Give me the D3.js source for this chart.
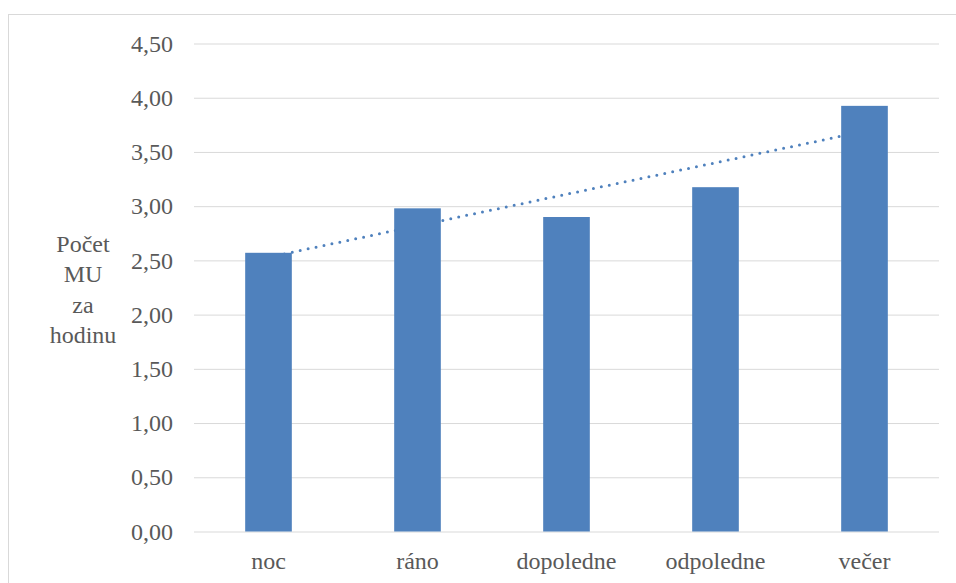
<!DOCTYPE html>
<html><head><meta charset="utf-8">
<script src="https://cdn.jsdelivr.net/npm/d3@7"></script>
<style>body{margin:0;background:#fff}svg{display:block}</style>
</head><body>
<svg id="c" width="956" height="583"></svg>
<script>
const categories = ["noc", "ráno", "dopoledne", "odpoledne", "večer"];
const values = [2.57, 2.98, 2.90, 3.175, 3.925];
const yTicks = [0, 0.5, 1, 1.5, 2, 2.5, 3, 3.5, 4, 4.5];
const yTitle = ["Počet", "MU", "za", "hodinu"];

const svg = d3.select("#c");
const W = 956, H = 583;
const m = {left: 194, right: 939, top: 43.5, bottom: 531.5};
const font = "Liberation Serif";
const fs = 24;
const txt = "#595959", grid = "#d9d9d9", barC = "#4f81bd";

svg.append("rect").attr("x", 8.5).attr("y", 14.5).attr("width", W).attr("height", H)
  .attr("fill", "none").attr("stroke", grid);

const x = d3.scaleBand().domain(categories).range([m.left, m.right]).paddingInner(0.687).paddingOuter(0.3435);
const y = d3.scaleLinear().domain([0, 4.5]).range([m.bottom, m.top]);

const yAxis = svg.append("g").attr("transform", `translate(${m.left},0)`)
  .call(d3.axisLeft(y).tickValues(yTicks).tickSize(-(m.right - m.left)).tickPadding(21)
    .tickFormat(d => d3.format(".2f")(d).replace(".", ",")));
yAxis.attr("font-family", font);
yAxis.select(".domain").remove();
yAxis.selectAll(".tick line").attr("stroke", grid).attr("stroke-width", 1);
yAxis.selectAll(".tick text").attr("fill", txt).attr("font-size", fs);

const xAxis = svg.append("g").attr("transform", `translate(0,${m.bottom})`)
  .call(d3.axisBottom(x).tickSize(0).tickPadding(20));
xAxis.attr("font-family", font);
xAxis.select(".domain").remove();
xAxis.selectAll(".tick text").attr("fill", txt).attr("font-size", fs);

// trendline (linear regression) drawn behind bars
const xs = values.map((v, i) => i + 1);
const mx = d3.mean(xs), my = d3.mean(values);
const slope = d3.sum(xs.map((xi, i) => (xi - mx) * (values[i] - my))) / d3.sum(xs.map(xi => (xi - mx) ** 2));
const icpt = my - slope * mx;
const trend = categories.map((c, i) => ({c, v: icpt + slope * (i + 1)}));
const cx = c => x(c) + x.bandwidth() / 2;
svg.append("path")
  .attr("d", d3.line().x(d => cx(d.c)).y(d => y(d.v))([trend[0], trend[trend.length - 1]]))
  .attr("fill", "none").attr("stroke", barC).attr("stroke-width", 3)
  .attr("stroke-linecap", "round").attr("stroke-dasharray", "0,8.1");

svg.append("g").selectAll("rect").data(values).join("rect")
  .attr("x", (d, i) => x(categories[i])).attr("width", x.bandwidth())
  .attr("y", d => y(d)).attr("height", d => y(0) - y(d)).attr("fill", barC);

const t = svg.append("text").attr("fill", txt).attr("font-family", font).attr("font-size", fs)
  .attr("text-anchor", "middle");
yTitle.forEach((s, i) => t.append("tspan").attr("x", 83).attr("y", 251.5 + i * 30.5).text(s));
</script>
</body></html>
